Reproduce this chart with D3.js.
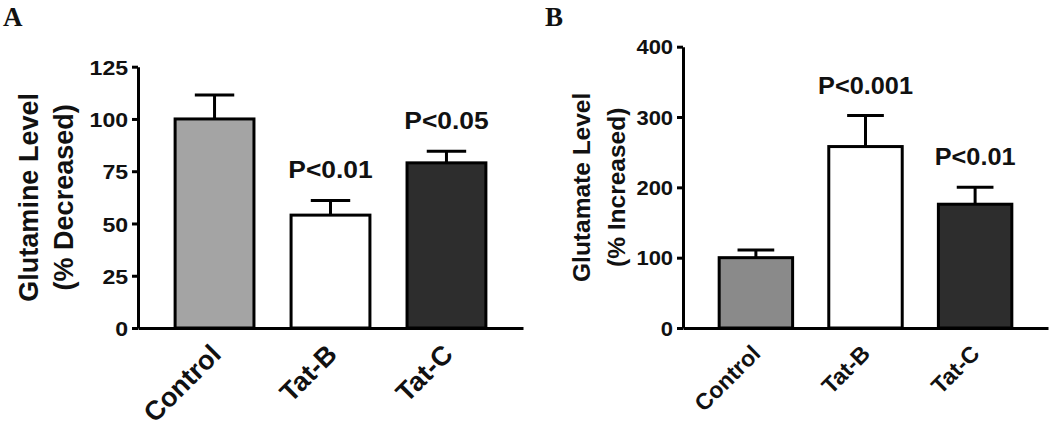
<!DOCTYPE html>
<html>
<head>
<meta charset="utf-8">
<script src="https://cdn.jsdelivr.net/npm/d3@7"></script>
<style>
  body { margin: 0; background: #fff; }
  svg text { font-weight: bold; fill: #111; }
</style>
</head>
<body>
<svg id="chart"></svg>
<script>
/////////////// Data ///////////////
const groups = ["Control", "Tat-B", "Tat-C"];

// panel A - glutamine
const glutamineMean = [100, 54, 79];
const glutamineErr = [11.5, 7, 5.5];
const glutamineP = ["", "P<0.01", "P<0.05"];
const glutamineTicks = [0, 25, 50, 75, 100, 125];

// panel B - glutamate
const glutamateMean = [100, 258, 176];
const glutamateErr = [11, 44, 24];
const glutamateP = ["", "P<0.001", "P<0.01"];
const glutamateTicks = [0, 100, 200, 300, 400];

/////////////// Constants ///////////////
const width = 1050;
const height = 436;
const sans = "'Liberation Sans', Arial, sans-serif";
const serif = "'Liberation Serif', 'Times New Roman', serif";
const fillsA = ["#a4a4a4", "#ffffff", "#2d2d2d"];
const fillsB = ["#8a8a8a", "#ffffff", "#2d2d2d"];
const stretch = 1.1; // the original type is a bit wide

const svg = d3.select("#chart").attr("width", width).attr("height", height);

// draws one bar panel
function drawPanel(opt) {
  const g = svg.append("g").style("font-family", sans);
  const rows = groups.map((name, i) => ({
    name, mean: opt.mean[i], err: opt.err[i], p: opt.p[i], fill: opt.fills[i]
  }));

  const x = d3.scaleBand().domain(groups).range(opt.xRange).padding(opt.pad);
  const y = d3.scaleLinear().domain([0, opt.yMax]).range(opt.yRange);

  // bars
  g.selectAll(".bar")
    .data(rows)
    .join("rect")
      .attr("x", d => x(d.name))
      .attr("y", d => y(d.mean))
      .attr("width", x.bandwidth())
      .attr("height", d => y(0) - y(d.mean))
      .attr("fill", d => d.fill)
      .attr("stroke", "#000")
      .attr("stroke-width", 3);

  // error bars (upper only)
  const cx = d => x(d.name) + x.bandwidth() / 2;
  g.selectAll(".err")
    .data(rows)
    .join("line")
      .attr("x1", cx).attr("x2", cx)
      .attr("y1", d => y(d.mean)).attr("y2", d => y(d.mean + d.err))
      .attr("stroke", "#000").attr("stroke-width", 3);
  g.selectAll(".cap")
    .data(rows)
    .join("line")
      .attr("x1", d => cx(d) - x.bandwidth() / 4)
      .attr("x2", d => cx(d) + x.bandwidth() / 4)
      .attr("y1", d => y(d.mean + d.err)).attr("y2", d => y(d.mean + d.err))
      .attr("stroke", "#000").attr("stroke-width", 3);

  // p-value labels
  g.selectAll(".pval")
    .data(rows.filter(d => d.p))
    .join("text")
      .attr("transform", d => `translate(${cx(d)},${y(d.mean + d.err) - 22}) scale(${stretch},1)`)
      .attr("text-anchor", "middle")
      .attr("font-size", opt.pSize)
      .text(d => d.p);

  // y axis
  g.append("g")
    .attr("transform", `translate(${opt.xRange[0]},0)`)
    .call(d3.axisLeft(y).tickValues(opt.ticks).tickSize(6).tickSizeOuter(0).tickPadding(3))
    .call(a => a.selectAll("path, line").attr("stroke", "#000").attr("stroke-width", 3))
    .call(a => a.selectAll("text")
      .attr("font-size", opt.tickSize).attr("fill", "#111").attr("dy", "0.36em")
      .attr("transform", `scale(${stretch},1)`));

  // x axis
  g.append("g")
    .attr("transform", `translate(0,${opt.yRange[0]})`)
    .call(d3.axisBottom(x).tickSize(0).tickSizeOuter(0))
    .call(a => a.select(".domain").attr("stroke", "#000").attr("stroke-width", 3))
    .call(a => a.selectAll("text")
      .attr("font-size", opt.catSize)
      .attr("fill", "#111")
      .attr("text-anchor", "end")
      .attr("x", 0).attr("y", 0).attr("dy", 0)
      .attr("transform", `translate(${opt.catDx},${opt.catDy}) rotate(-45)`));

  // y label (two lines)
  const yMid = (opt.yRange[0] + opt.yRange[1]) / 2;
  opt.yLabel.forEach((line, i) => {
    g.append("text")
      .attr("transform", `translate(${opt.labelX + i * opt.lineGap},${yMid}) rotate(-90)`)
      .attr("text-anchor", "middle")
      .attr("font-size", opt.labelSize)
      .text(line);
  });

  // panel letter
  g.append("text")
    .attr("x", opt.letterX).attr("y", 26)
    .style("font-family", serif)
    .attr("font-size", 27)
    .text(opt.letter);
}

drawPanel({
  letter: "A", letterX: 3,
  mean: glutamineMean, err: glutamineErr, p: glutamineP, fills: fillsA,
  ticks: glutamineTicks, yMax: 125,
  xRange: [138, 523], yRange: [328, 66.7], pad: 0.32,
  yLabel: ["Glutamine Level", "(% Decreased)"], labelX: 38, lineGap: 35, labelSize: 27,
  tickSize: 21, catSize: 27, catDx: 8, catDy: 28, pSize: 24
});

drawPanel({
  letter: "B", letterX: 545,
  mean: glutamateMean, err: glutamateErr, p: glutamateP, fills: fillsB,
  ticks: glutamateTicks, yMax: 400,
  xRange: [683, 1048], yRange: [328, 46.7], pad: 0.33,
  yLabel: ["Glutamate Level", "(% Increased)"], labelX: 590, lineGap: 35, labelSize: 24.5,
  tickSize: 20, catSize: 23, catDx: 6, catDy: 27, pSize: 23
});
</script>
</body>
</html>
